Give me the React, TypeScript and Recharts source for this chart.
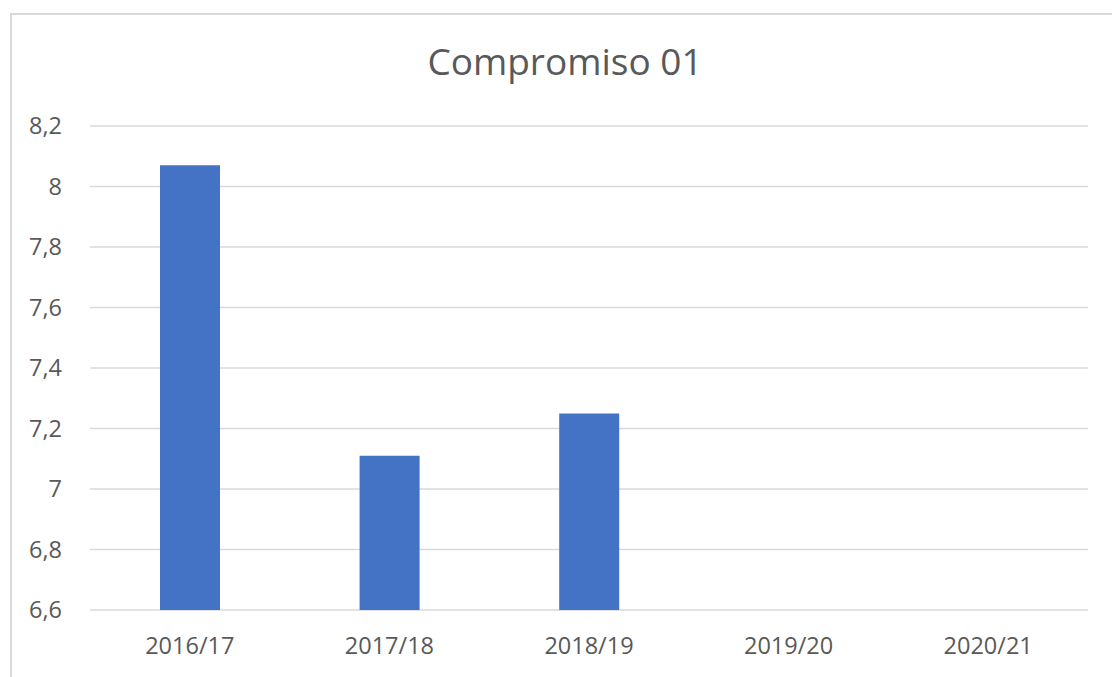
import React from "react";
import { BarChart, Bar, XAxis, YAxis, CartesianGrid } from "recharts";

const categories = ["2016/17", "2017/18", "2018/19", "2019/20", "2020/21"];
const values: (number | null)[] = [8.07, 7.11, 7.25, null, null];
const yTicks = [6.6, 6.8, 7, 7.2, 7.4, 7.6, 7.8, 8, 8.2];
const title = "Compromiso 01";

const data = categories.map((c, i) => ({ name: c, value: values[i] }));

const fmt = (v: number) => String(Math.round(v * 10) / 10).replace(".", ",");

export default function App() {
  return (
    <div style={{ position: "absolute", left: 0, top: 0, width: 1112, height: 677, background: "#fff", overflow: "hidden", fontFamily: "'Open Sans', sans-serif" }}>
      <div style={{ position: "absolute", left: 10, top: 13, width: 1200, height: 800, border: "2px solid #d9d9d9", boxSizing: "border-box" }} />
      <div style={{ position: "absolute", left: 0, width: 1130, top: 36, textAlign: "center", fontSize: 37, color: "#595959", lineHeight: "50px" }}>{title}</div>
      <div style={{ position: "absolute", left: 0, top: 0 }}>
        <BarChart width={1112} height={677} data={data} margin={{ top: 126, right: 24, bottom: 37, left: 0 }}>
          <CartesianGrid vertical={false} stroke="#d9d9d9" strokeWidth={1.5} />
          <XAxis dataKey="name" height={30} axisLine={false} tickLine={false} tickMargin={21} tick={{ fill: "#595959", fontSize: 23.5, fontFamily: "'Open Sans', sans-serif" }} />
          <YAxis width={90} domain={[6.6, 8.2]} ticks={yTicks} interval={0} axisLine={false} tickLine={false} tickMargin={22} tickFormatter={fmt} tick={{ fill: "#595959", fontSize: 23.5, fontFamily: "'Open Sans', sans-serif" }} />
          <Bar dataKey="value" fill="#4472c4" barSize={60} isAnimationActive={false} />
        </BarChart>
      </div>
    </div>
  );
}
